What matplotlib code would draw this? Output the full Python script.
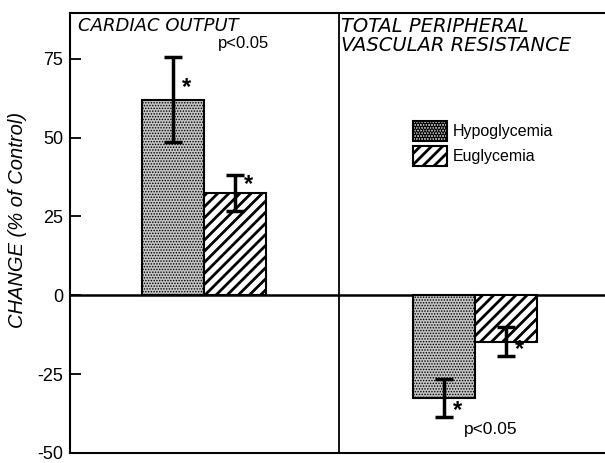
import numpy as np
import matplotlib
matplotlib.use("Agg")
import matplotlib.pyplot as plt

# values (% change from control)
panels = ["CARDIAC OUTPUT", "TOTAL PERIPHERAL\nVASCULAR RESISTANCE"]
hypo_vals = [62.0, -32.5]
hypo_err = [13.5, 6.0]
eugly_vals = [32.5, -14.7]
eugly_err = [5.7, 4.5]
yticks = [-50, -25, 0, 25, 50, 75]

plt.rcParams['font.family'] = ['Liberation Sans', 'DejaVu Sans']

fig = plt.figure(figsize=(6.05, 4.63), dpi=100)
ax = fig.add_axes([0.1157, 0.0216, 0.884, 0.9504])

x = np.arange(len(panels))
w = 0.229

plt.rcParams['hatch.linewidth'] = 0.7
b1 = ax.bar(x - w / 2, hypo_vals, w, color='#c4c4c4', edgecolor='black',
            hatch='......', linewidth=1.5, label='Hypoglycemia', zorder=2)
plt.rcParams['hatch.linewidth'] = 2.0
b2 = ax.bar(x + w / 2, eugly_vals, w, color='white', edgecolor='black',
            hatch='///', linewidth=1.5, label='Euglycemia', zorder=2)
for p in b1:
    if hasattr(p, 'set_hatch_linewidth'):
        p.set_hatch_linewidth(0.7)
for p in b2:
    if hasattr(p, 'set_hatch_linewidth'):
        p.set_hatch_linewidth(2.0)

ax.errorbar(x - w / 2, hypo_vals, yerr=hypo_err, fmt='none', ecolor='black',
            elinewidth=2.5, capsize=6.5, capthick=2.5, zorder=3)
ax.errorbar(x + w / 2, eugly_vals, yerr=eugly_err, fmt='none', ecolor='black',
            elinewidth=2.5, capsize=6.5, capthick=2.5, zorder=3)

# significance stars
for xi, v, e in zip(x - w / 2, hypo_vals, hypo_err):
    yy = v + 4 if v > 0 else v - e + 2
    ax.text(xi + 0.035, yy, '*', fontsize=17, fontweight='bold', ha='left', va='center')
for xi, v, e in zip(x + w / 2, eugly_vals, eugly_err):
    yy = v + 2.5 if v > 0 else v - e + 2
    ax.text(xi + 0.035, yy, '*', fontsize=17, fontweight='bold', ha='left', va='center')

ax.text(0.053, 79.8, 'p<0.05', fontsize=12, ha='left', va='center')
ax.text(0.96, -42.5, 'p<0.05', fontsize=12.5, ha='left', va='center')

ax.axhline(0, color='black', linewidth=1.8, zorder=1)
ax.axvline(0.5, color='black', linewidth=1.3, zorder=1)

ax.text(-0.465, 85.3, panels[0], fontsize=13, style='italic', ha='left', va='center',
        family=['DejaVu Sans'])
ax.text(0.505, 88.3, panels[1], fontsize=14, style='italic', ha='left', va='top',
        family=['DejaVu Sans'], linespacing=1.05)

ax.set_xlim(-0.494, 1.48)
ax.set_ylim(-50, 89.5)
ax.set_yticks(yticks)
ax.set_yticklabels([str(t) for t in yticks], fontsize=13)
ax.set_xticks([])
ax.tick_params(axis='y', direction='in', length=8, width=1.3, pad=5)
ax.set_ylabel('CHANGE (% of Control)', fontsize=14.5, style='italic')
ax.yaxis.set_label_coords(-0.08, 0.53)

ax.spines['right'].set_visible(False)
for s in ['left', 'top', 'bottom']:
    ax.spines[s].set_linewidth(1.5)

ax.legend(loc='upper left', bbox_to_anchor=(0.63, 0.77), frameon=False, fontsize=11.5,
          handlelength=2.1, handleheight=1.6, handletextpad=0.35, labelspacing=0.3,
          borderaxespad=0)

fig.savefig('out.png', dpi=100)
